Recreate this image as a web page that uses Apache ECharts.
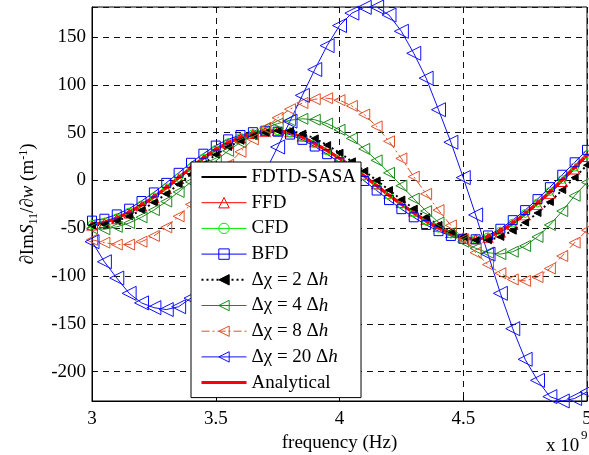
<!DOCTYPE html>
<html>
<head>
<meta charset="utf-8">
<script src="https://cdn.jsdelivr.net/npm/echarts@6/dist/echarts.min.js"></script>
<style>
html,body{margin:0;padding:0;background:#fff;}
#chart{width:589px;height:455px;}
</style>
</head>
<body>
<div id="chart"></div>
<script>
// frequency in units of 10^9 Hz
const freq = [3.00,3.05,3.10,3.15,3.20,3.25,3.30,3.35,3.40,3.45,3.50,3.55,3.60,3.65,3.70,3.75,3.80,3.85,3.90,3.95,
              4.00,4.05,4.10,4.15,4.20,4.25,4.30,4.35,4.40,4.45,4.50,4.55,4.60,4.65,4.70,4.75,4.80,4.85,4.90,4.95,5.00];

const fdtdSasa = [-46.5,-44,-39.5,-33.5,-26,-17.5,-8,2.5,13,23,32,39,44.5,48.5,51,52,50,45.5,39,31.5,
                  23.5,14.5,5,-5,-15,-24.5,-33.5,-42,-49.5,-55.5,-59.5,-61.5,-59.5,-53.5,-45,-35,-24,-12,0.5,13.5,26.5];
const ffd = [-47,-44.5,-40.5,-34.5,-27,-18.5,-9,1.5,12,22,31,38.5,44,48.5,51,52,50.5,46,40,32.5,
             24.5,15.5,6,-4,-14,-23.5,-32.5,-41,-48.5,-55,-59.5,-61.5,-60,-54.5,-46.5,-36.5,-25.5,-14,-1.5,11.5,24.5];
const cfd = [-46,-43.5,-39,-33,-25.5,-17,-7.5,3,13.5,23.5,32.5,39.5,45,49,51.5,52,50,45,38.5,31,
             23,14,4.5,-5.5,-15.5,-25,-34,-42.5,-50,-56,-60,-61.5,-59,-53,-44.5,-34.5,-23.5,-11.5,1,14,27];
const bfd = [-42,-40,-35.5,-29.5,-21.5,-12.5,-2.5,8,18.5,28,36.5,43,47.5,50.5,52,51,48,42.5,35.5,27.5,
             19,9.5,-0.5,-10.5,-20.5,-30,-38.5,-46.5,-53,-58,-61,-61.5,-57.5,-50.5,-41.5,-31,-19.5,-7,6,19,32];
const dx2 = [-47,-46,-42.5,-37.5,-31,-23,-14,-4,6.5,17,27,35,41.5,46.5,50,52,52,49,44,37,
             29,20,10,0,-10,-20,-29.5,-38.5,-46.5,-53.5,-59,-62.5,-62.5,-59,-52.5,-44,-34,-22.5,-10,3,16];
const dx4 = [-50,-51,-48.5,-44.5,-38.5,-31,-22,-12,-1.5,9.5,20.5,31,40,48,54.5,59.5,63,64.5,63.5,59.5,
             53,44,33,21,8,-5.5,-19,-32,-44,-55,-64,-71,-75.5,-77,-74.5,-68.5,-59,-46.5,-32,-16,-2];
const dx8 = [-62,-65,-67,-67,-64,-58,-49,-37.5,-25,-11.5,2.5,16.5,30,43,55,65.5,74.5,81,85,86,
             84,78,69,56.5,41,23,4,-14,-31,-47,-61.5,-75.5,-88,-97,-103.5,-105,-101,-92,-79,-65,-52];
const dx20 = [-64,-85,-102,-118,-128,-133,-135,-132,-123,-108,-89,-67,-43,-17,9,35,62,89,116,141,
              162,175,181,181.4,173,156,133,107,74,40,3,-36,-77,-118,-155,-187,-209,-226,-230.6,-228,-221];
const analytical = [-46,-43.5,-39,-33,-25.5,-17,-7.5,3,13.5,23.5,32.5,39.5,45,49,51.5,52,50,45,38.5,31,
                    23,14,4.5,-5.5,-15.5,-25,-34,-42.5,-50,-56,-60,-61.5,-59,-53,-44.5,-34.5,-23.5,-11.5,1,14,27];

const xTicks = [3, 3.5, 4, 4.5, 5];
const yTicks = [-200, -150, -100, -50, 0, 50, 100, 150];
const names = ['FDTD-SASA','FFD','CFD','BFD','Δχ = 2 Δh','Δχ = 4 Δh','Δχ = 8 Δh','Δχ = 20 Δh','Analytical'];

const FONT = '"Liberation Serif", "Times New Roman", serif';
const pair = arr => freq.map((f, i) => [f, arr[i]]);
const none = 'rgba(0,0,0,0)';

function mk(name, arr, color, o) {
  return Object.assign({
    name: name, type: 'line', data: pair(arr), animation: false,
    showAllSymbol: true, silent: true,
    emphasis: {disabled: true},
    lineStyle: {color: color, width: 1, type: 'solid'},
    itemStyle: {color: none, borderColor: color, borderWidth: 1}
  }, o);
}

const series = [
  mk(names[0], fdtdSasa, '#000', {symbol: 'circle', showSymbol: false,
     lineStyle: {color: '#000', width: 2}, itemStyle: {color: none, borderColor: none, borderWidth: 0}}),
  mk(names[1], ffd, '#ff0000', {symbol: 'triangle', symbolSize: [10, 9]}),
  mk(names[2], cfd, '#00ee00', {symbol: 'circle', symbolSize: 8}),
  mk(names[3], bfd, '#0000ff', {symbol: 'rect', symbolSize: 9}),
  mk(names[4], dx2, '#000', {symbol: 'triangle', symbolSize: [7, 7], symbolRotate: 90,
     lineStyle: {color: '#000', width: 2, type: [2, 3]},
     itemStyle: {color: '#000', borderColor: '#000', borderWidth: 1}}),
  mk(names[5], dx4, '#1a8a1a', {symbol: 'triangle', symbolSize: [11, 11], symbolRotate: 90}),
  mk(names[6], dx8, '#e0502a', {symbol: 'triangle', symbolSize: [11, 11], symbolRotate: 90,
     lineStyle: {color: '#e0502a', width: 1, type: [8, 3, 2, 3]}}),
  mk(names[7], dx20, '#1010ff', {symbol: 'triangle', symbolSize: [14, 14], symbolRotate: 90}),
  mk(names[8], analytical, '#ff0000', {symbol: 'circle', showSymbol: false, smooth: 0.3,
     lineStyle: {color: '#ff0000', width: 3}, itemStyle: {color: none, borderColor: none, borderWidth: 0}})
];

const chart = echarts.init(document.getElementById('chart'), null, {renderer: 'canvas'});
chart.setOption({
  backgroundColor: '#fff',
  animation: false,
  textStyle: {fontFamily: FONT},
  grid: {left: 92, right: 2, top: 7, bottom: 54, show: true, borderColor: '#000', borderWidth: 1,
         backgroundColor: 'transparent', containLabel: false, outerBoundsMode: 'none'},
  xAxis: {
    type: 'value', min: 3, max: 5, interval: 0.5,
    name: 'frequency (Hz)', nameLocation: 'middle', nameGap: 32,
    nameTextStyle: {fontFamily: FONT, fontSize: 19, color: '#000'},
    axisLine: {show: true, onZero: false, lineStyle: {color: '#000', width: 1}},
    axisTick: {show: true, inside: true, length: 5, lineStyle: {color: '#000'}},
    axisLabel: {fontFamily: FONT, fontSize: 19, color: '#000', margin: 9,
      formatter: v => { const t = xTicks.find(x => Math.abs(x - v) < 1e-6); return t === undefined ? '' : String(t); }},
    splitLine: {show: true, lineStyle: {color: '#111', width: 1, type: [6, 5]}}
  },
  yAxis: {
    type: 'value', min: -230.6, max: 181.4, splitNumber: 8,
    name: '∂Im{i|S}{sub|11}/∂{i|w} (m{sup|-1})', nameLocation: 'middle', nameRotate: 90, nameGap: 56,
    nameTextStyle: {fontFamily: FONT, fontSize: 19, color: '#000', lineHeight: 19, verticalAlign: 'top',
      rich: {
        i: {fontFamily: FONT, fontSize: 19, fontStyle: 'italic', color: '#000', lineHeight: 19, verticalAlign: 'top'},
        sub: {fontFamily: FONT, fontSize: 12, color: '#000', lineHeight: 12, padding: [10, 0, 0, 0], verticalAlign: 'top'},
        sup: {fontFamily: FONT, fontSize: 12, color: '#000', lineHeight: 12, verticalAlign: 'top'}
      }},
    axisLine: {show: true, onZero: false, lineStyle: {color: '#000', width: 1}},
    axisTick: {show: true, inside: true, length: 5, lineStyle: {color: '#000'}},
    axisLabel: {fontFamily: FONT, fontSize: 19, color: '#000', margin: 6, showMinLabel: false, showMaxLabel: false,
      formatter: v => { const t = yTicks.find(y => Math.abs(y - v) < 1e-6); return t === undefined ? '' : String(t); }},
    splitLine: {show: true, lineStyle: {color: '#111', width: 1, type: [6, 5]}}
  },
  legend: {
    data: names, orient: 'vertical', left: 191, top: 162,
    itemWidth: 45, itemHeight: 13, itemGap: 5.7,
    padding: [5, 5, 5, 9],
    backgroundColor: '#fff', borderColor: '#000', borderWidth: 1, borderRadius: 0,
    selectedMode: false,
    lineStyle: {width: 'inherit', type: 'inherit'},
    itemStyle: {borderWidth: 'inherit'},
    textStyle: {fontFamily: FONT, fontSize: 19, color: '#000', lineHeight: 20,
      rich: {i: {fontFamily: FONT, fontSize: 19, fontStyle: 'italic', color: '#000', lineHeight: 20}}},
    formatter: n => n.replace(/Δh$/, 'Δ{i|h}')
  },
  graphic: [
    {type: 'text', left: 546, top: 437, silent: true, z: 100, style: {text: 'x 10', font: '19px ' + FONT, fill: '#000'}},
    {type: 'text', left: 581, top: 429, silent: true, z: 100, style: {text: '9', font: '13px ' + FONT, fill: '#000'}}
  ],
  series: series
});
</script>
</body>
</html>
